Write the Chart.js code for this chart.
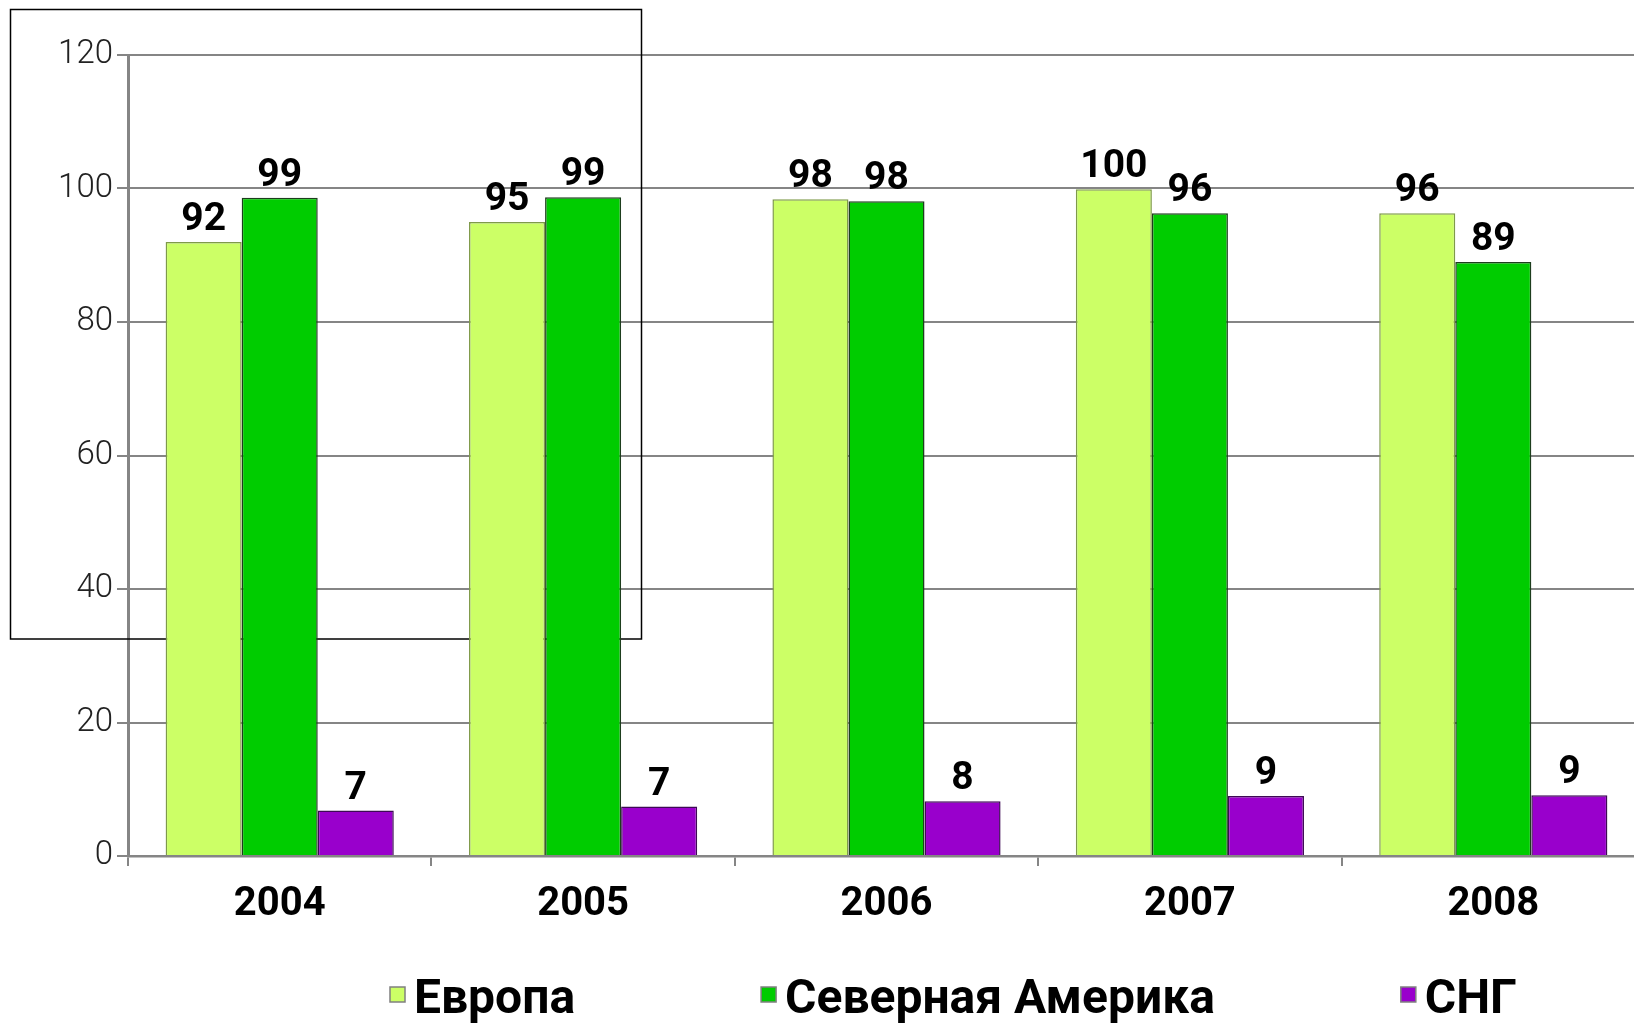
<!DOCTYPE html>
<html>
<head>
<meta charset="utf-8">
<script src="https://cdn.jsdelivr.net/npm/chart.js@4/dist/chart.umd.min.js"></script>
<style>
  html, body { margin: 0; padding: 0; background: #fff; overflow: hidden; }
  #chart { display: block; }
</style>
</head>
<body>
<canvas id="chart" width="1650" height="1023"></canvas>
<script>
//############################
//######    Data     ########
//############################

const years = ["2004", "2005", "2006", "2007", "2008"];
const seriesNames = ["Европа", "Северная Америка", "СНГ"];

const europe = [92, 95, 98.4, 99.9, 96.3];
const northAmerica = [98.6, 98.7, 98.1, 96.3, 89];
const cis = [6.8, 7.4, 8.2, 9, 9.1];

const yTicks = [0, 20, 40, 60, 80, 100, 120];

const fillColors = ["#ccff66", "#00cc00", "#9900cc"];
const edgeColors = ["#7f9a4a", "#1d3d1d", "#3d0a55"];

//############################
//######   Plugins   ########
//############################

// the thin black frame sitting behind the bars (top left)
const framePlugin = {
  id: "frame",
  beforeDatasetsDraw: function (chart) {
    const ctx = chart.ctx;
    ctx.save();
    ctx.strokeStyle = "#000";
    ctx.lineWidth = 1.5;
    ctx.strokeRect(10.5, 9.5, 631, 629.5);
    ctx.restore();
  }
};

// numbers above every bar
const valueLabels = {
  id: "valueLabels",
  afterDatasetsDraw: function (chart) {
    const ctx = chart.ctx;
    ctx.save();
    ctx.font = "bold 39px Roboto";
    ctx.fillStyle = "#000";
    ctx.textAlign = "center";
    ctx.textBaseline = "alphabetic";
    chart.data.datasets.forEach(function (ds, i) {
      chart.getDatasetMeta(i).data.forEach(function (bar, j) {
        ctx.fillText(String(Math.round(ds.data[j])), bar.x, bar.y - 12);
      });
    });
    ctx.restore();
  }
};

// legend row at the bottom, small boxes close to the text
const bottomLegend = {
  id: "bottomLegend",
  afterDraw: function (chart) {
    const ctx = chart.ctx;
    let x = 390;
    const baseY = 1013;
    ctx.save();
    ctx.font = "bold 48px Roboto";
    ctx.textBaseline = "alphabetic";
    ctx.textAlign = "left";
    chart.data.datasets.forEach(function (ds) {
      ctx.fillStyle = ds.backgroundColor;
      ctx.fillRect(x, 987, 15, 15);
      ctx.strokeStyle = "#808080";
      ctx.lineWidth = 1.5;
      ctx.strokeRect(x, 987, 15, 15);
      ctx.fillStyle = "#000";
      const tx = x + 24;
      ctx.fillText(ds.label, tx, baseY);
      x = tx + ctx.measureText(ds.label).width + 186;
    });
    ctx.restore();
  }
};

//############################
//######  Bar chart  ########
//############################

const allSeries = [europe, northAmerica, cis];

const datasets = allSeries.map(function (values, i) {
  return {
    label: seriesNames[i],
    data: values,
    backgroundColor: fillColors[i],
    borderColor: edgeColors[i],
    borderWidth: 1.5,
    categoryPercentage: 0.752,
    barPercentage: 1.0
  };
});

const config = {
  type: "bar",
  data: { labels: years, datasets: datasets },
  options: {
    responsive: false,
    animation: false,
    layout: { padding: { top: 55, right: 5, bottom: 87, left: 0 } },
    plugins: {
      legend: { display: false },
      tooltip: { enabled: false }
    },
    scales: {
      x: {
        offset: true,
        grid: {
          offset: true,
          drawOnChartArea: false,
          drawTicks: true,
          tickLength: 10,
          color: "#858585",
          lineWidth: 2
        },
        border: { display: true, color: "#858585", width: 2.5 },
        ticks: {
          color: "#000",
          padding: 15,
          font: { family: "Roboto", size: 40, weight: "bold" }
        },
        afterFit: function (scale) { scale.height = 80; }
      },
      y: {
        min: 0,
        max: 120,
        afterBuildTicks: function (scale) {
          scale.ticks = yTicks.map(function (v) { return { value: v }; });
        },
        grid: {
          color: "#858585",
          lineWidth: 2,
          drawTicks: true,
          tickLength: 11
        },
        border: { display: true, color: "#858585", width: 3 },
        ticks: {
          color: "#222",
          padding: 4,
          font: { family: "Roboto", size: 33, weight: "300" }
        },
        afterFit: function (scale) { scale.width = 128; }
      }
    }
  },
  plugins: [framePlugin, valueLabels, bottomLegend]
};

const myChart = new Chart(document.getElementById("chart"), config);
</script>
</body>
</html>
